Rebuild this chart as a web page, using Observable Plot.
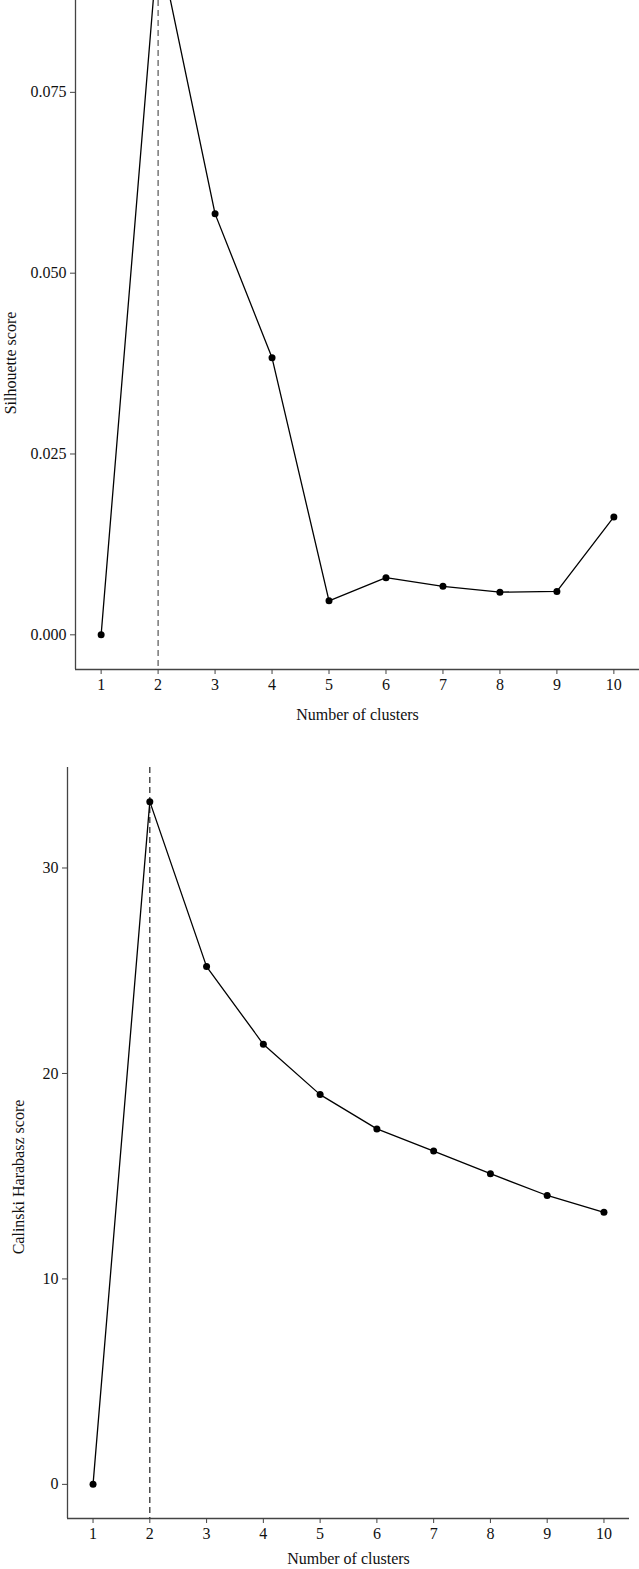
<!DOCTYPE html>
<html>
<head>
<meta charset="utf-8">
<script src="https://cdn.jsdelivr.net/npm/d3@7"></script>
<script src="https://cdn.jsdelivr.net/npm/@observablehq/plot@0.6"></script>
<style>
  html, body { margin: 0; padding: 0; background: #fff; }
  #topChart, #bottomChart { display: block; }
  svg { display: block; }
</style>
</head>
<body>
<div id="topChart"></div>
<div id="bottomChart"></div>
<script>
// ---- data ----
const clusters = [1, 2, 3, 4, 5, 6, 7, 8, 9, 10];
const silhouette = [0, 0.0959, 0.0582, 0.0383, 0.0047, 0.0079, 0.0067, 0.0059, 0.0060, 0.0163];
const calinski = [0, 33.23, 25.2, 21.42, 18.97, 17.3, 16.22, 15.12, 14.06, 13.24];
const optimalK = [2];
const silTicks = [0, 0.025, 0.05, 0.075];
const calTicks = [0, 10, 20, 30];
const xTicks = clusters;
const silVisibleMax = 0.0877; // the reference image is cropped at the top
const xLabel = "Number of clusters";
const silLabel = "Silhouette score";
const calLabel = "Calinski Harabasz score";

const silData = clusters.map((k, i) => ({k, v: silhouette[i]}));
const calData = clusters.map((k, i) => ({k, v: calinski[i]}));

function expand(vals, f = 0.05) {
  const lo = d3.min(vals), hi = d3.max(vals), r = hi - lo;
  return [lo - f * r, hi + f * r];
}
const xDom = expand(clusters);
const silDom = [expand(silhouette)[0], silVisibleMax];
const calDom = expand(calinski);

const axisColor = "#444";
const font = "'Liberation Serif', 'Times New Roman', serif";

function chart({data, yDom, yTicks, yFmt, yLabel, width, height, mt, mb, ml, mr, labDx, labDy, dash}) {
  return Plot.plot({
    width, height,
    marginTop: mt, marginBottom: mb, marginLeft: ml, marginRight: mr,
    style: {fontFamily: font, fontSize: "16px", color: "#111", background: "#fff", overflow: "visible"},
    x: {domain: xDom},
    y: {domain: yDom},
    marks: [
      Plot.ruleX(optimalK, {stroke: dash, strokeWidth: 1.2, strokeDasharray: "6,4"}),
      Plot.line(data, {x: "k", y: "v", stroke: "#000", strokeWidth: 1.3, clip: true}),
      Plot.dot(data, {x: "k", y: "v", r: 3.5, fill: "#000", stroke: "none", clip: true}),
      Plot.ruleX([xDom[0]], {stroke: axisColor, strokeWidth: 1.3}),
      Plot.ruleY([yDom[0]], {stroke: axisColor, strokeWidth: 1.3}),
      Plot.axisX({ticks: xTicks, tickSize: 5, tickPadding: 4, stroke: axisColor,
        label: xLabel, labelAnchor: "center", labelOffset: mb - 6, labelArrow: "none", fontSize: 16}),
      Plot.axisY({ticks: yTicks, tickFormat: yFmt, tickSize: 5, tickPadding: 4, stroke: axisColor,
        label: null, fontSize: 16}),
      Plot.text([yLabel], {frameAnchor: "left", text: d => d, rotate: -90, textAnchor: "middle",
        lineAnchor: "middle", dx: labDx, dy: labDy, fontSize: 16, fill: "#111"})
    ]
  });
}

const topPlot = chart({
  data: silData, yDom: silDom, yTicks: silTicks, yFmt: d3.format(".3f"), yLabel: silLabel,
  width: 639, height: 725, mt: 0, mb: 56, ml: 75, mr: 0, labDx: -65, labDy: 28, dash: "#555"
});
document.getElementById("topChart").appendChild(topPlot);

const bottomPlot = chart({
  data: calData, yDom: calDom, yTicks: calTicks, yFmt: d3.format("d"), yLabel: calLabel,
  width: 639, height: 844, mt: 42, mb: 51, ml: 67, mr: 10, labDx: -49, labDy: 34, dash: "#222"
});
document.getElementById("bottomChart").appendChild(bottomPlot);
</script>
</body>
</html>
